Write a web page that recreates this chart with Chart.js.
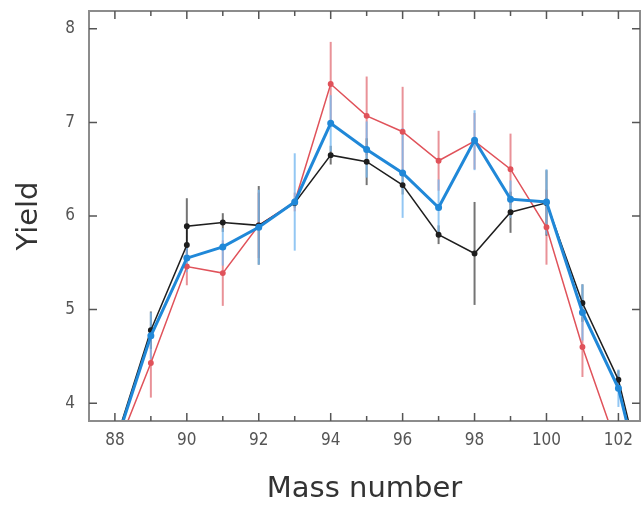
<!DOCTYPE html>
<html>
<head>
<meta charset="utf-8">
<script src="https://cdn.jsdelivr.net/npm/chart.js@4.4.0/dist/chart.umd.min.js"></script>
<style>
  html, body { margin: 0; padding: 0; background: #fff; }
  #wrap { width: 641px; height: 506px; }
</style>
</head>
<body>
<div id="wrap"><canvas id="yieldChart" width="641" height="506"></canvas></div>
<script>
// tick labels
const massTicks = [88, 90, 92, 94, 96, 98, 100, 102];
const yieldTicks = [4, 5, 6, 7, 8];

// red series
const redMass  = [88, 89, 90, 91, 92, 93, 94, 95, 96, 97, 98, 99, 100, 101, 102];
const redYield = [3.46, 4.43, 5.46, 5.39, 5.9, 6.15, 7.41, 7.07, 6.9, 6.59, 6.8, 6.5, 5.88, 4.6, 3.5];
const redErr   = [0, 0.37, 0.2, 0.35, 0.35, 0.1, 0.45, 0.42, 0.48, 0.32, 0.3, 0.38, 0.4, 0.32, 0.3];

// blue series
const blueMass  = [88, 89, 90, 91, 92, 93, 94, 95, 96, 97, 98, 99, 100, 101, 102, 103];
const blueYield = [3.54, 4.72, 5.55, 5.67, 5.88, 6.15, 6.99, 6.71, 6.46, 6.09, 6.81, 6.18, 6.15, 4.97, 4.16, 2.6];
const blueErr   = [0, 0.25, 0.15, 0.2, 0.4, 0.52, 0.3, 0.3, 0.48, 0.3, 0.32, 0.2, 0.35, 0.3, 0.2, 0];

// black series (two values at A=90)
const blackMass  = [88, 89, 90, 90, 91, 92, 93, 94, 95, 96, 97, 98, 99, 100, 101, 102, 103];
const blackYield = [3.57, 4.78, 5.69, 5.89, 5.93, 5.9, 6.14, 6.65, 6.58, 6.33, 5.8, 5.6, 6.04, 6.14, 5.07, 4.25, 2.67];
const blackErr   = [0, 0.2, 0, 0.3, 0.1, 0.42, 0.05, 0.1, 0.25, 0.1, 0.1, 0.55, 0.22, 0.35, 0.2, 0.1, 0];

function toPoints(xs, ys, errs) {
    return xs.map((x, i) => ({ x: x, y: ys[i], err: errs[i] }));
}

const tickFont = { family: "'Liberation Sans Narrow', 'DejaVu Sans Condensed', sans-serif", size: 17 };
const titleFont = { family: "'DejaVu Sans', sans-serif", size: 29, lineHeight: 1 };

// vertical error bars, drawn under the lines
const errorBars = {
    id: 'errorBars',
    beforeDatasetsDraw(chart) {
        const { ctx, chartArea, scales: { x, y } } = chart;
        ctx.save();
        ctx.beginPath();
        ctx.rect(chartArea.left, chartArea.top, chartArea.right - chartArea.left, chartArea.bottom - chartArea.top);
        ctx.clip();
        chart.data.datasets.forEach(ds => {
            ctx.strokeStyle = ds.errColor;
            ctx.lineWidth = 2;
            ds.data.forEach(p => {
                if (!p.err) return;
                const px = x.getPixelForValue(p.x);
                ctx.beginPath();
                ctx.moveTo(px, y.getPixelForValue(p.y + p.err));
                ctx.lineTo(px, y.getPixelForValue(p.y - p.err));
                ctx.stroke();
            });
        });
        ctx.restore();
    }
};

// box frame with inward ticks on all four sides
const frame = {
    id: 'frame',
    afterDatasetsDraw(chart) {
        const { ctx, chartArea: a, scales: { x, y } } = chart;
        ctx.save();
        ctx.strokeStyle = '#8c8c8c';
        ctx.lineWidth = 2;
        ctx.strokeRect(a.left, a.top, a.right - a.left, a.bottom - a.top);
        ctx.lineWidth = 1.5;
        ctx.strokeStyle = '#555';
        for (let m = 88; m <= 102; m++) {
            const px = x.getPixelForValue(m);
            const len = m % 2 === 0 ? 8 : 5;
            ctx.beginPath();
            ctx.moveTo(px, a.bottom); ctx.lineTo(px, a.bottom - len);
            ctx.moveTo(px, a.top); ctx.lineTo(px, a.top + len);
            ctx.stroke();
        }
        yieldTicks.forEach(v => {
            const py = y.getPixelForValue(v);
            ctx.beginPath();
            ctx.moveTo(a.left, py); ctx.lineTo(a.left + 8, py);
            ctx.moveTo(a.right, py); ctx.lineTo(a.right - 8, py);
            ctx.stroke();
        });
        ctx.restore();
    }
};

const ctx = document.getElementById('yieldChart').getContext('2d');
new Chart(ctx, {
    type: 'line',
    data: {
        datasets: [
            {
                label: 'red',
                data: toPoints(redMass, redYield, redErr),
                borderColor: '#e0525a',
                backgroundColor: '#e0525a',
                errColor: 'rgba(226, 110, 118, 0.75)',
                borderWidth: 1.5,
                pointRadius: 2.2,
                order: 2
            },
            {
                label: 'black',
                data: toPoints(blackMass, blackYield, blackErr),
                borderColor: '#1e1e1e',
                backgroundColor: '#1e1e1e',
                errColor: 'rgba(70, 70, 70, 0.75)',
                borderWidth: 1.5,
                pointRadius: 2.2,
                order: 1
            },
            {
                label: 'blue',
                data: toPoints(blueMass, blueYield, blueErr),
                borderColor: '#2088d8',
                backgroundColor: '#2088d8',
                errColor: 'rgba(120, 185, 240, 0.8)',
                borderWidth: 3,
                pointRadius: 2,
                order: 0
            }
        ]
    },
    options: {
        responsive: false,
        animation: false,
        layout: { autoPadding: false, padding: { top: 11, right: 1, left: 0, bottom: 0 } },
        plugins: { legend: { display: false }, tooltip: { enabled: false } },
        scales: {
            x: {
                type: 'linear', min: 87.28, max: 102.6,
                afterBuildTicks: s => { s.ticks = massTicks.map(v => ({ value: v })); },
                afterFit: s => { s.height = 85; s.paddingLeft = 0; s.paddingRight = 0; },
                grid: { display: false, drawTicks: false },
                border: { display: false },
                ticks: { padding: 9, color: '#555', font: tickFont, maxRotation: 0, autoSkip: false },
                title: { display: true, text: 'Mass number', color: '#333', font: titleFont, padding: { top: 0, bottom: 2 } }
            },
            y: {
                min: 3.81, max: 8.19,
                afterBuildTicks: s => { s.ticks = yieldTicks.map(v => ({ value: v })); },
                afterFit: s => { s.width = 89; s.paddingTop = 0; s.paddingBottom = 0; },
                grid: { display: false, drawTicks: false },
                border: { display: false },
                ticks: { padding: 14, color: '#555', font: tickFont },
                title: { display: true, text: 'Yield', color: '#333', font: titleFont, padding: { top: 15, bottom: 0 } }
            }
        }
    },
    plugins: [errorBars, frame]
});
</script>
</body>
</html>
